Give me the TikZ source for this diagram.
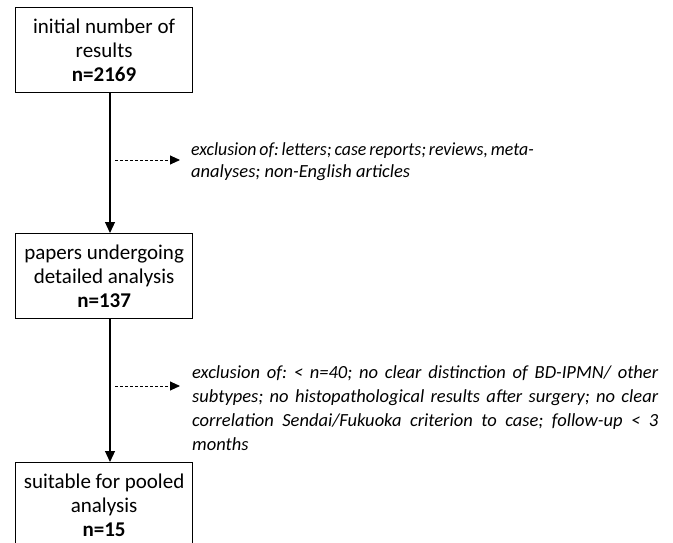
\documentclass[tikz,border=0pt]{standalone}
\usepackage{fontspec}
\setmainfont{Carlito}
\usetikzlibrary{arrows.meta}
\frenchspacing
\begin{document}
\begin{tikzpicture}[x=1pt,y=-1pt,
  box/.style={draw, line width=1.2pt, minimum width=177pt, minimum height=85pt, align=center,
    font=\fontsize{21}{24}\selectfont, inner sep=0pt, anchor=north west},
  flow/.style={line width=1.2pt, -{Triangle[length=11pt,width=10pt]}},
  excl/.style={line width=0.9pt, dash pattern=on 3pt off 2pt, -{Triangle[length=10pt,width=9pt]}},
  note/.style={font=\fontsize{18.5}{22}\selectfont\itshape, align=left, inner sep=0pt, anchor=north west},
  longnote/.style={note, font=\fontsize{18.5}{24}\selectfont\itshape}]
\useasboundingbox (0,0) rectangle (673,543);
\clip (0,0) rectangle (673,543);
% boxes
\node[box] (b1) at (15,7) {initial number of\\results\\\textbf{n=2169}};
\node[box] (b2) at (15,233) {papers undergoing\\detailed analysis\\\textbf{n=137}};
\node[box] (b3) at (15,462) {suitable for pooled\\analysis\\\textbf{n=15}};
% main flow
\coordinate (ax) at (110,0);
\draw[flow] (b1.south -| ax) -- (b2.north -| ax);
\draw[flow] (b2.south -| ax) -- (b3.north -| ax);
% exclusion notes
\node[note] (n1) at (191,142) {\scalebox{0.963}[1]{\spaceskip=3pt\relax exclusion of: letters; case reports; reviews, meta-}\\analyses; non-English articles};
\node[longnote] (n2) at (192,365) {\makebox[466pt][s]{exclusion of: < n=40; no clear distinction of BD-IPMN/ other}\\
\makebox[466pt][s]{subtypes; no histopathological results after surgery; no clear}\\
\makebox[466pt][s]{correlation Sendai/Fukuoka criterion to case; follow-up < 3}\\
months};
\coordinate (d1s) at (115,160);
\coordinate (d1e) at (180,160);
\coordinate (d2s) at (115,386);
\coordinate (d2e) at (180,386);
\draw[excl] (d1s) -- (d1e);
\draw[excl] (d2s) -- (d2e);
\end{tikzpicture}
\end{document}
